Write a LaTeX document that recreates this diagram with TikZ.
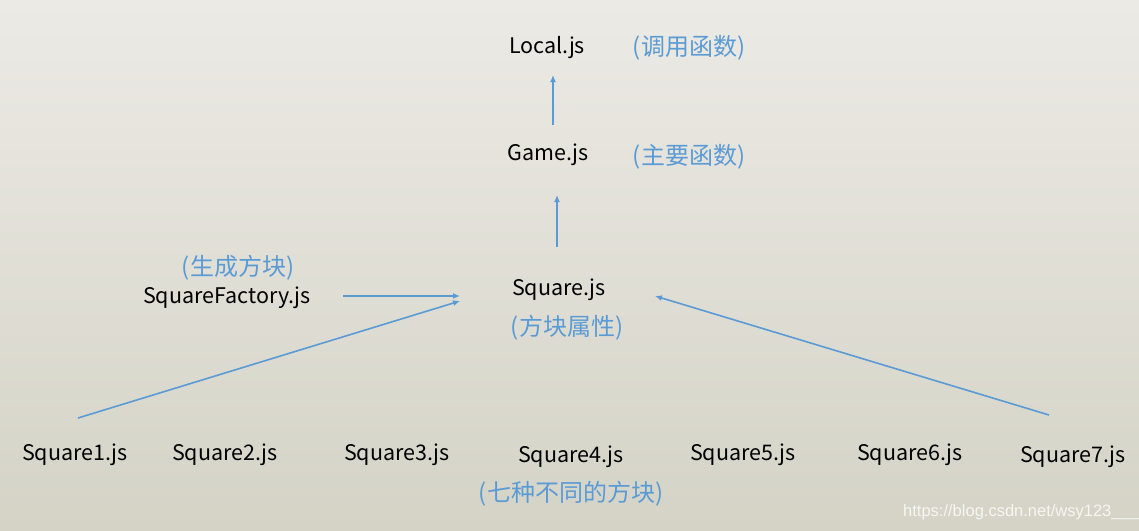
\documentclass[tikz,border=0pt]{standalone}
\usepackage{fontspec}
\setmainfont{Noto Sans CJK SC}
\newfontfamily\cjk{Noto Sans CJK SC}
\newfontfamily\wmfont{Liberation Sans}
\usetikzlibrary{arrows.meta}
\definecolor{bluei}{RGB}{91,155,213}
\definecolor{bgtop}{RGB}{236,234,229}
\definecolor{bgbot}{RGB}{212,211,198}
\tikzset{
  file/.style={font=\fontsize{21.5}{25}\selectfont, text=black, inner sep=0pt},
  note/.style={font=\cjk\fontsize{24}{28}\selectfont, text=bluei, inner sep=0pt},
  link/.style={draw=bluei, line width=1.6pt, -{Latex[length=7pt,width=6pt]}},
}
\begin{document}
\begin{tikzpicture}[x=1pt,y=-1pt]
\shade[top color=bgtop, bottom color=bgbot] (0,0) rectangle (1139,530);
\useasboundingbox (0,0) rectangle (1139,530);

\node[file] (local) at (547,48) {Local.js};
\node[note] (localn) at (689,48) {(调用函数)};
\node[file] (game) at (548,155) {Game.js};
\node[note] (gamen) at (689,157) {(主要函数)};
\node[file] (square) at (559,290) {Square.js};
\node[note] (squaren) at (567,328) {(方块属性)};
\node[file] (factory) at (227,298) {SquareFactory.js};
\node[note] (factoryn) at (238,268) {(生成方块)};

\node[file] (s1) at (75,455) {Square1.js};
\node[file] (s2) at (225,455) {Square2.js};
\node[file] (s3) at (397,455) {Square3.js};
\node[file] (s4) at (571,457) {Square4.js};
\node[file] (s5) at (743,455) {Square5.js};
\node[file] (s6) at (910,455) {Square6.js};
\node[file] (s7) at (1073,457) {Square7.js};
\node[note] (sn) at (571,494) {(七种不同的方块)};

\node[font=\wmfont\fontsize{16.5}{18}\selectfont, text=white!80!bgbot, anchor=west, inner sep=0pt] (wm) at (903,512) {https://blog.csdn.net/wsy123\_\_\_};

\coordinate (gL) at (553,125);
\coordinate (lB) at (553,75);
\coordinate (sT) at (557,247);
\coordinate (gB) at (557,195);
\coordinate (fR) at (343,296);
\coordinate (sL) at (460,296);
\coordinate (s1T) at (78,418);
\coordinate (sL2) at (460,301);
\coordinate (s7T) at (1049,415);
\coordinate (sR) at (655,296);

\draw[link] (gL) -- (lB);
\draw[link] (sT) -- (gB);
\draw[link] (fR) -- (sL);
\draw[link] (s1T) -- (sL2);
\draw[link] (s7T) -- (sR);
\end{tikzpicture}
\end{document}
